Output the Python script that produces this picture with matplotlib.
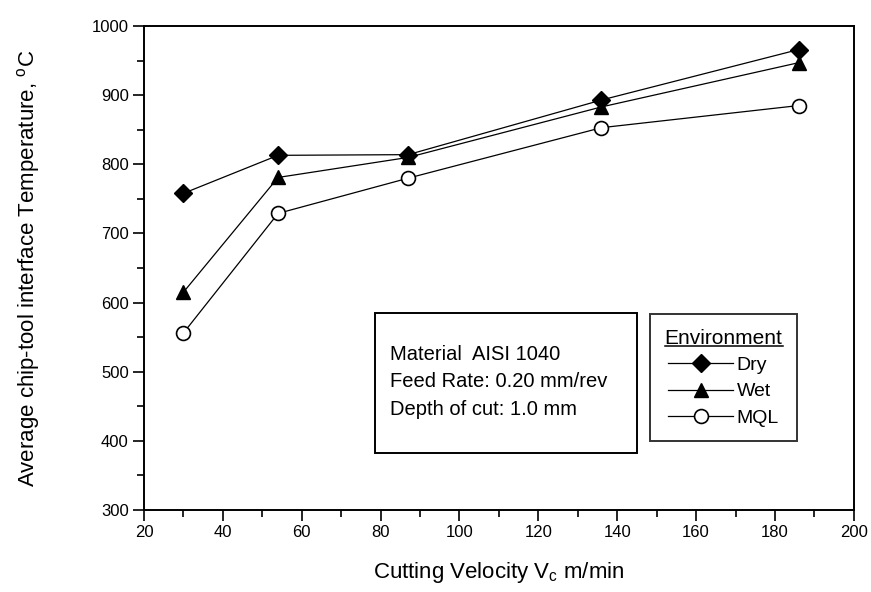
import matplotlib
matplotlib.use("Agg")
import matplotlib.pyplot as plt
from matplotlib.ticker import MultipleLocator
from matplotlib.lines import Line2D
from matplotlib.patches import Rectangle

plt.rcParams['font.family'] = ['Liberation Sans', 'DejaVu Sans']
plt.rcParams['mathtext.fontset'] = 'custom'
plt.rcParams['mathtext.rm'] = 'Liberation Sans'
plt.rcParams['mathtext.it'] = 'Liberation Sans'

velocity = [30, 54, 87, 136, 186]
dry = [758, 813, 814, 893, 966]
wet = [615, 781, 810, 883, 947]
mql = [556, 729, 780, 853, 885]
series_names = ["Dry", "Wet", "MQL"]
info_lines = ["Material  AISI 1040", "Feed Rate: 0.20 mm/rev", "Depth of cut: 1.0 mm"]

fig = plt.figure(figsize=(8.71, 5.92), dpi=100)
ax = fig.add_axes([0.1653, 0.1385, 0.815, 0.8175])

lw = 0.9
ax.plot(velocity, dry, color='black', lw=lw, marker='D', ms=9, mfc='black', mec='black', label=series_names[0])
ax.plot(velocity, wet, color='black', lw=lw, marker='^', ms=10, mfc='black', mec='black', label=series_names[1])
ax.plot(velocity, mql, color='black', lw=lw, marker='o', ms=10, mfc='white', mec='black', mew=1.2, label=series_names[2])

ax.set_xlim(20, 200)
ax.set_ylim(300, 1000)
ax.xaxis.set_major_locator(MultipleLocator(20))
ax.xaxis.set_minor_locator(MultipleLocator(10))
ax.yaxis.set_major_locator(MultipleLocator(100))
ax.yaxis.set_minor_locator(MultipleLocator(50))
ax.tick_params(which='both', direction='out', top=False, right=False, labelsize=12, pad=3)
ax.tick_params(which='major', length=8, width=1.2)
ax.tick_params(which='minor', length=5, width=1.2)
for s in ax.spines.values():
    s.set_linewidth(1.4)

ax.set_xlabel("Cutting Velocity V$_c$ m/min", fontsize=16, labelpad=14)
ax.set_ylabel("Average chip-tool interface Temperature, $^{\\mathrm{o}}$C", fontsize=16, labelpad=36)

# info box
ax.add_patch(Rectangle((0.325, 0.118), 0.369, 0.289, transform=ax.transAxes,
                       fc='white', ec='black', lw=1.4, zorder=3))
ax.text(0.346, 0.265, "\n".join(info_lines), transform=ax.transAxes, fontsize=14.5,
        va='center', ha='left', linespacing=1.55, zorder=4)

leg = ax.legend(title="Environment", loc='upper left', bbox_to_anchor=(0.713, 0.405),
                fontsize=14, title_fontsize=15, frameon=True, fancybox=False,
                edgecolor='black', handlelength=3.3, handletextpad=0.2,
                labelspacing=0.45, borderpad=0.75, borderaxespad=0)
leg.get_frame().set_linewidth(1.4)
leg.set_zorder(5)

fig.canvas.draw()
tb = leg.get_title().get_window_extent()
inv = fig.transFigure.inverted()
(x0, y0), (x1, y1) = inv.transform([(tb.x0, tb.y0), (tb.x1, tb.y0)])
fig.add_artist(Line2D([x0, x1], [y0 + 0.003, y1 + 0.003], transform=fig.transFigure, color='black', lw=1.1))

fig.savefig("out.png", dpi=100)
